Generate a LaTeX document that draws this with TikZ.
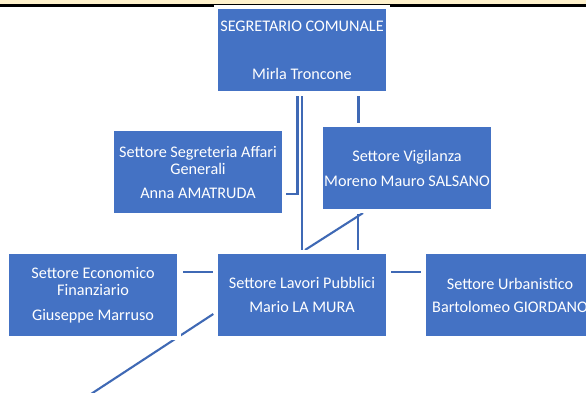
\documentclass[tikz,border=0pt]{standalone}
\usepackage{fontspec}
\setmainfont{Carlito}
\definecolor{boxblue}{HTML}{4472C4}
\definecolor{lineblue}{HTML}{3F69B5}
\definecolor{bandyellow}{HTML}{FFF2CC}
\begin{document}
\begin{tikzpicture}[x=1pt,y=1pt,
  orgbox/.style={rectangle, fill=boxblue, draw=white, line width=4pt,
    minimum width=172pt, minimum height=86pt, inner sep=0pt, outer sep=0pt,
    align=center, text=white, font=\fontsize{16.2}{17}\selectfont},
  conn/.style={draw=lineblue, line width=2.1pt}]
\useasboundingbox (0,0) rectangle (586,392);
\fill[white] (0,0) rectangle (586,392);
% top band
\fill[bandyellow] (0,387.5) rectangle (586,392);
\fill[black] (0,385.3) rectangle (586,387.5);
% nodes (anchors; redrawn on top below)
\path
  (302,342) node[orgbox] (seg) {SEGRETARIO COMUNALE\\[31pt]Mirla Troncone}
  (198,220) node[orgbox] (segr) {Settore Segreteria Affari\\Generali\\[7pt]Anna AMATRUDA}
  (407,224) node[orgbox] (vig) {Settore Vigilanza\\[8pt]Moreno Mauro SALSANO}
  (93,97) node[orgbox] (eco) {Settore Economico\\Finanziario\\[8pt]Giuseppe Marruso}
  (302,97) node[orgbox] (lav) {Settore Lavori Pubblici\\[7pt]Mario LA MURA}
  (510,97) node[orgbox] (urb) {Settore Urbanistico\\[6pt]Bartolomeo GIORDANO};
\coordinate (loose) at (91,-2);
% connectors
\draw[conn] ([xshift=-4.5pt,yshift=-3pt]seg.south) |- ([xshift=2pt,yshift=-22pt]segr.east);
\draw[conn] ([xshift=-0.3pt,yshift=-3pt]seg.south) -- ([xshift=-0.3pt,yshift=2pt]lav.north);
\draw[conn] ([xshift=56.5pt,yshift=-3pt]seg.south) -- ([xshift=-48.5pt,yshift=2pt]vig.north);
\draw[conn] ([xshift=-49pt,yshift=-3pt]vig.south) -- ([xshift=56pt,yshift=2pt]lav.north);
\draw[conn] ([xshift=-44pt,yshift=-2pt]vig.south) -- ([xshift=3pt,yshift=2pt]lav.north);
\draw[conn] ([xshift=4pt,yshift=23.3pt]eco.east) -- ([xshift=-3pt,yshift=23.3pt]lav.west);
\draw[conn] ([xshift=3pt,yshift=23.3pt]lav.east) -- ([xshift=-3pt,yshift=23.3pt]urb.west);
\draw[conn] ([xshift=-2.7pt,yshift=-19pt]lav.west) -- (loose);
% boxes on top, white halo masks crossing lines
\path
  (302,342) node[orgbox] {SEGRETARIO COMUNALE\\[31pt]Mirla Troncone}
  (198,220) node[orgbox] {Settore Segreteria Affari\\Generali\\[7pt]Anna AMATRUDA}
  (407,224) node[orgbox] {Settore Vigilanza\\[8pt]Moreno Mauro SALSANO}
  (93,97) node[orgbox] {Settore Economico\\Finanziario\\[8pt]Giuseppe Marruso}
  (302,97) node[orgbox] {Settore Lavori Pubblici\\[7pt]Mario LA MURA}
  (510,97) node[orgbox] {Settore Urbanistico\\[6pt]Bartolomeo GIORDANO};
\end{tikzpicture}
\end{document}
